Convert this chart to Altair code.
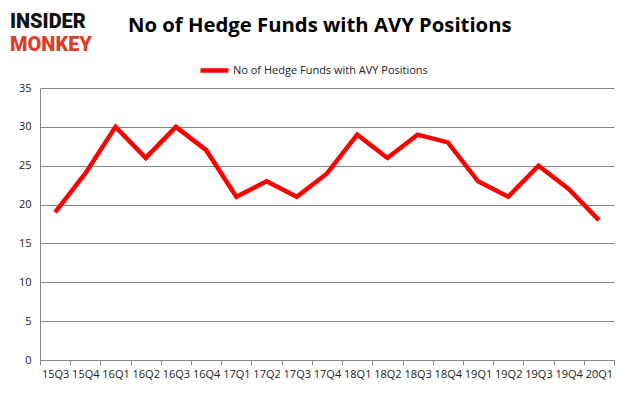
import altair as alt
import pandas as pd

quarters = ["15Q3", "15Q4", "16Q1", "16Q2", "16Q3", "16Q4", "17Q1", "17Q2", "17Q3", "17Q4",
            "18Q1", "18Q2", "18Q3", "18Q4", "19Q1", "19Q2", "19Q3", "19Q4", "20Q1"]
funds = [19, 24, 30, 26, 30, 27, 21, 23, 21, 24, 29, 26, 29, 28, 23, 21, 25, 22, 18]
series_name = "No of Hedge Funds with AVY Positions"
chart_title = ["No of Hedge Funds with AVY Positions"]
logo_top = ["INSIDER"]
logo_bottom = ["MONKEY"]
y_ticks = [0, 5, 10, 15, 20, 25, 30, 35]

df = pd.DataFrame({"quarter": quarters, "funds": funds, "series": series_name})

GRID = "#868686"

line = alt.Chart(df).mark_line(strokeWidth=4.5, color="#ff0000", clip=False, strokeJoin="miter").encode(
    x=alt.X("quarter:N", sort=quarters, bandPosition=0.5,
            scale=alt.Scale(type="band", paddingInner=0, paddingOuter=0),
            axis=alt.Axis(title=None, tickBand="extent", labelAngle=0, labelOverlap=False,
                          tickSize=5, labelPadding=3, domainColor=GRID, tickColor=GRID,
                          labelFont="Open Sans", labelFontSize=11, labelColor="#222222",
                          grid=False)),
    y=alt.Y("funds:Q", scale=alt.Scale(domain=[0, 35], nice=False),
            axis=alt.Axis(title=None, values=y_ticks, tickSize=0, labelPadding=9,
                          domainColor=GRID, gridColor=GRID, grid=True,
                          labelFont="Open Sans", labelFontSize=11, labelColor="#222222")),
    color=alt.Color("series:N", scale=alt.Scale(range=["#ff0000"]),
                    legend=alt.Legend(title=None, orient="none", legendX=158, legendY=-34,
                                      symbolType="stroke", symbolStrokeWidth=4.5, symbolSize=784,
                                      labelFont="Open Sans", labelFontSize=11, labelColor="#222222",
                                      labelOffset=2, labelLimit=0)),
)

title = alt.Chart(pd.DataFrame({"t": chart_title})).mark_text(
    font="Open Sans", fontWeight="bold", fontSize=20.3, color="#000000", align="left", baseline="alphabetic"
).encode(text="t:N", x=alt.value(88), y=alt.value(-56))

logo1 = alt.Chart(pd.DataFrame({"t": logo_top})).mark_text(
    font="Roboto", fontWeight=900, fontSize=20, color="#111111", align="left", baseline="alphabetic"
).encode(text="t:N", x=alt.value(-30), y=alt.value(-60))

logo2 = alt.Chart(pd.DataFrame({"t": logo_bottom})).mark_text(
    font="Roboto", fontWeight=900, fontSize=20, color="#d9402b", align="left", baseline="alphabetic"
).encode(text="t:N", x=alt.value(-30), y=alt.value(-37))

chart = alt.layer(line, title, logo1, logo2).properties(
    width=574, height=272,
    autosize=alt.AutoSizeParams(type="none"),
    padding={"left": 32, "top": 80, "right": 13, "bottom": 33},
).configure_view(stroke=None)

chart.save("out.html", embed_options={"renderer": "svg", "actions": False})
